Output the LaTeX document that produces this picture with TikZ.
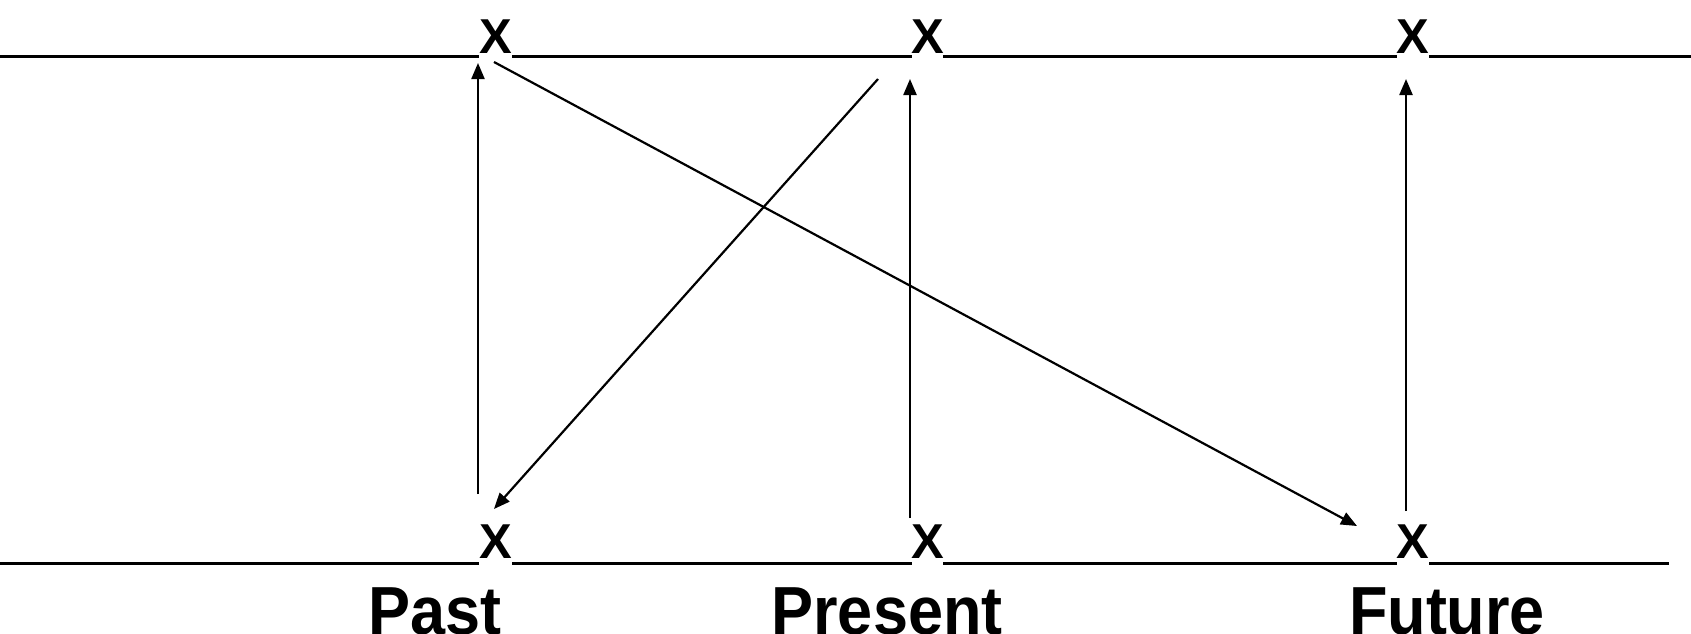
\documentclass[tikz,border=0pt]{standalone}
\usepackage{fontspec}
\setmainfont{Liberation Sans}
\usetikzlibrary{arrows.meta}
\begin{document}
\begin{tikzpicture}[x=1pt,y=-1pt,
  xmark/.style={font=\fontsize{49}{49}\selectfont\bfseries, inner sep=0pt, anchor=base},
  label/.style={font=\fontsize{63}{63}\selectfont\bfseries, inner sep=0pt, anchor=base, yscale=1.08},
  rule/.style={line width=3pt},
  arr/.style={line width=2.2pt, -{Triangle[length=16pt,width=13pt]}}]
\useasboundingbox (0,0) rectangle (1691,634);
% X marks
\node[xmark] (t1) at (495.5,53) {X};
\node[xmark] (t2) at (927.5,53) {X};
\node[xmark] (t3) at (1413,53) {X};
\node[xmark] (b1) at (495.5,558) {X};
\node[xmark] (b2) at (927.5,558) {X};
\node[xmark] (b3) at (1412.5,558) {X};
% line ends
\coordinate (tl) at (0,57);
\coordinate (tr) at (1691,57);
\coordinate (bl) at (0,563);
\coordinate (br) at (1669,563);
% top line
\draw[rule] (tl) -- (479,57);
\draw[rule] (512,57) -- (912,57);
\draw[rule] (943,57) -- (1397,57);
\draw[rule] (1429,57) -- (tr);
% bottom line
\draw[rule] (bl) -- (479,563);
\draw[rule] (512,563) -- (912,563);
\draw[rule] (943,563) -- (1397,563);
\draw[rule] (1429,563) -- (br);
% arrow end points
\coordinate (a1s) at (478,494);
\coordinate (a1e) at (478,63);
\coordinate (a2s) at (494,62);
\coordinate (a2e) at (1357,526);
\coordinate (a3s) at (878,79);
\coordinate (a3e) at (494,509);
\coordinate (a4s) at (910,518);
\coordinate (a4e) at (910,79);
\coordinate (a5s) at (1406,511);
\coordinate (a5e) at (1406,79);
\draw[arr] (a1s) -- (a1e);
\draw[arr] (a2s) -- (a2e);
\draw[arr] (a3s) -- (a3e);
\draw[arr] (a4s) -- (a4e);
\draw[arr] (a5s) -- (a5e);
% labels
\node[label] (past) at (435,634) {Past};
\node[label] (present) at (887,634) {Present};
\node[label] (future) at (1447,634) {Future};
\end{tikzpicture}
\end{document}
